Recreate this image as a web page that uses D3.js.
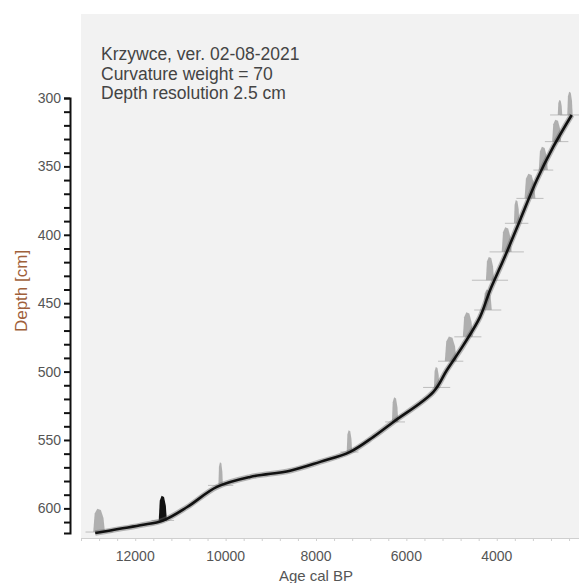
<!DOCTYPE html>
<html>
<head>
<meta charset="utf-8">
<script src="https://cdn.jsdelivr.net/npm/d3@7"></script>
<style>
  body { margin: 0; background: #fff; }
  text { font-family: "Liberation Sans", Arial, sans-serif; }
</style>
</head>
<body>
<div id="chart"></div>
<script>
// age-depth model (cal BP, cm)
const modelAges   = [2341, 2748, 3115, 3485, 3854, 4148, 4369, 4738, 5106, 5402, 6287, 6729, 7245, 7908, 8572, 9457, 10193, 10850, 11381, 11890, 12885];
const modelDepths = [312.4, 335.6, 360, 389.3, 418.5, 440.5, 460, 480.7, 499, 514.8, 536.8, 547.7, 558.7, 566, 572.5, 577, 584.3, 599, 608.8, 612.4, 618];

// calibrated dates drawn as small distributions
const dateAges    = [12800, 11390, 10110, 7260, 6250, 5330, 5020, 4640, 4200, 4150, 3780, 3560, 3265, 2970, 2675, 2600, 2380];
const dateDepths  = [617.3, 608.8, 583.2, 558.8, 536.8, 511.6, 492.4, 474.6, 455, 433.2, 412.5, 391.6, 373.4, 352.7, 331.9, 312.4, 312.4];
const dateHeights = [17, 18, 17, 16, 18, 15, 18, 18, 15, 17, 18, 17, 18, 17, 16, 11, 17];
const dateSpreads = [130, 90, 50, 60, 70, 60, 130, 110, 90, 90, 110, 60, 120, 100, 100, 50, 60];
const dateErrors  = [300, 250, 280, 200, 220, 300, 280, 300, 300, 400, 380, 260, 300, 220, 260, 220, 220];

const xTicks = [12000, 10000, 8000, 6000, 4000];
const yTicks = [300, 350, 400, 450, 500, 550, 600];

const titleLines = ["Krzywce, ver. 02-08-2021", "Curvature weight = 70", "Depth resolution 2.5 cm"];

const w = 579, h = 583;

const svg = d3.select("#chart").append("svg")
  .attr("width", w)
  .attr("height", h);

// scales
let x = d3.scaleLinear().domain([13200, 2180]).range([81, 579]);
let y = d3.scaleLinear().domain([300, 618]).range([98, 533]);

// panel background
svg.append("rect")
  .attr("x", 81).attr("y", 14)
  .attr("width", w - 81).attr("height", 538 - 14)
  .attr("fill", "#f2f2f2");

// x axis (light gray, ticks every 400 yr)
let xAxis = d3.axisBottom(x)
  .tickValues(d3.range(2400, 13201, 400))
  .tickSize(3)
  .tickFormat("");
let gx = svg.append("g")
  .attr("transform", "translate(0,538)")
  .call(xAxis);
gx.select(".domain").attr("stroke", "#cfcfcf");
gx.selectAll(".tick line").attr("stroke", "#cfcfcf");

svg.append("g").selectAll("text")
  .data(xTicks)
  .join("text")
  .attr("x", d => x(d))
  .attr("y", 561)
  .attr("text-anchor", "middle")
  .attr("font-size", 14)
  .attr("fill", "#555")
  .text(d => d);

// y axis (black, minor ticks every 10 cm)
let yAxis = d3.axisLeft(y)
  .tickValues(d3.range(300, 611, 10))
  .tickSize(6)
  .tickFormat("");
let gy = svg.append("g")
  .attr("transform", "translate(70,0)")
  .call(yAxis);
gy.select(".domain").attr("stroke", "#111").attr("stroke-width", 2);
gy.selectAll(".tick line").attr("stroke", "#111").attr("stroke-width", 2);

svg.append("g").selectAll("text")
  .data(yTicks)
  .join("text")
  .attr("x", 61)
  .attr("y", d => y(d) + 5)
  .attr("text-anchor", "end")
  .attr("font-size", 14)
  .attr("fill", "#555")
  .text(d => d);

// axis titles
svg.append("text")
  .attr("transform", "translate(27,291) rotate(-90)")
  .attr("text-anchor", "middle")
  .attr("font-size", 17)
  .attr("fill", "#a0603a")
  .text("Depth [cm]");

svg.append("text")
  .attr("x", 316).attr("y", 581)
  .attr("text-anchor", "middle")
  .attr("font-size", 15)
  .attr("fill", "#555")
  .text("Age cal BP");

// header text
svg.append("g").selectAll("text")
  .data(titleLines)
  .join("text")
  .attr("x", 101)
  .attr("y", (d, i) => 60 + i * 19.5)
  .attr("font-size", 17.5)
  .attr("fill", "#444")
  .text(d => d);

// date distributions
const dates = dateAges.map((a, i) => ({
  age: a, depth: dateDepths[i], ht: dateHeights[i], sp: dateSpreads[i], err: dateErrors[i]
}));

svg.append("g").selectAll("line")
  .data(dates)
  .join("line")
  .attr("x1", d => x(d.age + d.err))
  .attr("x2", d => x(d.age - d.err))
  .attr("y1", d => y(d.depth))
  .attr("y2", d => y(d.depth))
  .attr("stroke", "#bdbdbd")
  .attr("stroke-width", 1);

svg.append("g").selectAll("path")
  .data(dates)
  .join("path")
  .attr("d", d => {
    const pts = [
      [x(d.age + d.sp), y(d.depth)],
      [x(d.age + d.sp * 0.75), y(d.depth - d.ht * 0.8)],
      [x(d.age + d.sp * 0.3), y(d.depth - d.ht)],
      [x(d.age - d.sp * 0.3), y(d.depth - d.ht * 0.95)],
      [x(d.age - d.sp * 0.75), y(d.depth - d.ht * 0.6)],
      [x(d.age - d.sp), y(d.depth)]
    ];
    return d3.line()(pts) + "Z";
  })
  .attr("fill", (d, i) => i === 1 ? "#111" : "#a3a3a3")
  .attr("fill-opacity", (d, i) => i === 1 ? 1 : 0.85);

// model curve
const model = modelAges.map((a, i) => ({ age: a, depth: modelDepths[i] }));
let modelLine = d3.line()
  .x(d => x(d.age))
  .y(d => y(d.depth))
  .curve(d3.curveCatmullRom);

svg.append("path")
  .attr("d", modelLine(model))
  .attr("fill", "none")
  .attr("stroke", "#666")
  .attr("stroke-opacity", 0.45)
  .attr("stroke-width", 5.5);

svg.append("path")
  .attr("d", modelLine(model))
  .attr("fill", "none")
  .attr("stroke", "#111")
  .attr("stroke-width", 2.6);
</script>
</body>
</html>
